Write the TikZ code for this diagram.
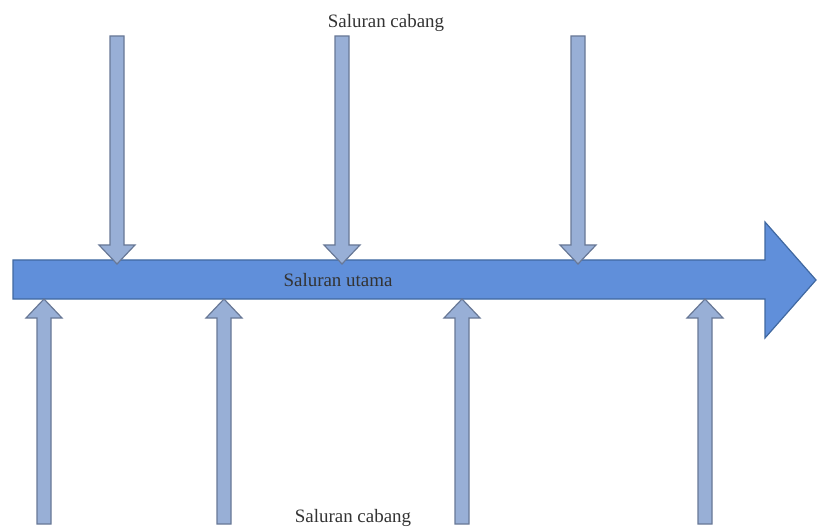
\documentclass[tikz,border=0pt]{standalone}
\usepackage{fontspec}
\setmainfont{Liberation Serif}
\definecolor{mainfill}{RGB}{96,143,218}
\definecolor{mainline}{RGB}{64,104,160}
\definecolor{branchfill}{RGB}{152,175,214}
\definecolor{branchline}{RGB}{104,120,150}
\begin{document}
\begin{tikzpicture}[x=1bp,y=1bp]
\tikzstyle{every node}+=[inner sep=0pt]
\tikzstyle{mainarrow}=[fill=mainfill, draw=mainline, line width=1.2bp, line join=miter]
\tikzstyle{branch}=[fill=branchfill, draw=branchline, line width=1.2bp, line join=miter]
\tikzstyle{label}=[font=\fontsize{19}{22}\selectfont, text=black!80]
\useasboundingbox (0,0) rectangle (817,-531);
% main channel
\draw [mainarrow] (13,-260) -- (765,-260) -- (765,-222) -- (816,-280) -- (765,-338) -- (765,-299) -- (13,-299) -- cycle;
% branches from above
\draw [branch] (110,-36) -- (124,-36) -- (124,-245) -- (135,-245) -- (117,-264) -- (99,-245) -- (110,-245) -- cycle;
\draw [branch] (335,-36) -- (349,-36) -- (349,-245) -- (360,-245) -- (342,-264) -- (324,-245) -- (335,-245) -- cycle;
\draw [branch] (571,-36) -- (585,-36) -- (585,-245) -- (596,-245) -- (578,-264) -- (560,-245) -- (571,-245) -- cycle;
% branches from below
\draw [branch] (37,-524) -- (51,-524) -- (51,-318) -- (62,-318) -- (44,-299) -- (26,-318) -- (37,-318) -- cycle;
\draw [branch] (217,-524) -- (231,-524) -- (231,-318) -- (242,-318) -- (224,-299) -- (206,-318) -- (217,-318) -- cycle;
\draw [branch] (455,-524) -- (469,-524) -- (469,-318) -- (480,-318) -- (462,-299) -- (444,-318) -- (455,-318) -- cycle;
\draw [branch] (698,-524) -- (712,-524) -- (712,-318) -- (723,-318) -- (705,-299) -- (687,-318) -- (698,-318) -- cycle;
% labels
\draw (386,-23) node [label] (topname) {Saluran cabang};
\draw (338,-280) node [label] (mainname) {Saluran utama};
\draw (353,-518) node [label] (bottomname) {Saluran cabang};
\end{tikzpicture}
\end{document}
